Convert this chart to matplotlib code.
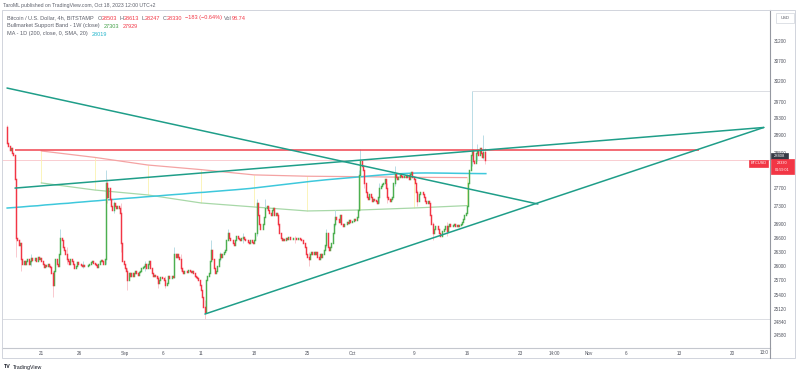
import matplotlib
matplotlib.use("Agg")
import matplotlib.pyplot as plt
import matplotlib.dates as mdates
import numpy as np
import pandas as pd
from matplotlib.patches import Rectangle
from matplotlib.ticker import NullLocator

plt.rcParams['font.family'] = ['Liberation Sans', 'DejaVu Sans']

# ---------------- data ----------------
first_time = "2023-08-16 12:00"
first_open = 29100
closes = [
    28720, 28650, 28550,                              # Aug 16
    28600, 28480, 28450, 27900, 26600, 26550,         # Aug 17
    26450, 26500, 26150, 26050, 26100, 26050,         # Aug 18
    26100, 26150, 26050, 26100, 26180, 26120,         # Aug 19
    26120, 26180, 26100, 26200, 26150, 26180,         # Aug 20
    26100, 26050, 25980, 26020, 26000, 26050,         # Aug 21
    26000, 25980, 25850, 25600, 25900, 26150,         # Aug 22
    26050, 26000, 26250, 26600, 26550, 26400,         # Aug 23
    26350, 26250, 26150, 26100, 26050, 26150,         # Aug 24
    26100, 26050, 25950, 26000, 26080, 26050,         # Aug 25
    26040, 26020, 26000, 26030, 26010, 26000,         # Aug 26
    26000, 26020, 26050, 26080, 26100, 26070,         # Aug 27
    26050, 26030, 25980, 26050, 26100, 26120,         # Aug 28
    26100, 26050, 26150, 27800, 27500, 27700,         # Aug 29
    27450, 27300, 27200, 27350, 27300, 27250,         # Aug 30
    27300, 27250, 27150, 26500, 26100, 26050,         # Aug 31
    25950, 25900, 25700, 25850, 25800, 25850,         # Sep 1
    25800, 25850, 25900, 25850, 25820, 25870,         # Sep 2
    25900, 25950, 25980, 26000, 26050, 25950,         # Sep 3
    26050, 26100, 25950, 25850, 25800, 25820,         # Sep 4
    25800, 25750, 25650, 25700, 25780, 25760,         # Sep 5
    25750, 25700, 25600, 25650, 25800, 25750,         # Sep 6
    25750, 25800, 25780, 26250, 26200, 26250,         # Sep 7
    26200, 26150, 25950, 25900, 25850, 25900,         # Sep 8
    25900, 25880, 25920, 25900, 25880, 25900,         # Sep 9
    25850, 25800, 25780, 25750, 25700, 25600,         # Sep 10
    25500, 25350, 25150, 25050, 25700, 25800,         # Sep 11
    25850, 26100, 26350, 26150, 25950, 25850,         # Sep 12
    25900, 26000, 26150, 26250, 26200, 26250,         # Sep 13
    26300, 26350, 26550, 26700, 26600, 26550,         # Sep 14
    26550, 26500, 26450, 26550, 26650, 26600,         # Sep 15
    26580, 26550, 26600, 26620, 26580, 26550,         # Sep 16
    26550, 26520, 26500, 26550, 26520, 26500,         # Sep 17
    26550, 26700, 27350, 27100, 26900, 26800,         # Sep 18
    26800, 26900, 27050, 27250, 27300, 27200,         # Sep 19
    27150, 27100, 27200, 27250, 27100, 27150,         # Sep 20
    27100, 26900, 26700, 26600, 26550, 26580,         # Sep 21
    26550, 26600, 26580, 26620, 26580, 26570,         # Sep 22
    26580, 26600, 26590, 26570, 26580, 26590,         # Sep 23
    26580, 26560, 26550, 26500, 26400, 26250,         # Sep 24
    26200, 26150, 26250, 26300, 26250, 26300,         # Sep 25
    26250, 26300, 26200, 26150, 26250, 26200,         # Sep 26
    26250, 26350, 26450, 26700, 26400, 26350,         # Sep 27
    26400, 26500, 26700, 26900, 27050, 27000,         # Sep 28
    27000, 26950, 27100, 26900, 26850, 26900,         # Sep 29
    26900, 26950, 26920, 26980, 26950, 26960,         # Sep 30
    26970, 27000, 26980, 27050, 27200, 27980,         # Oct 1
    28300, 28200, 28100, 27800, 27600, 27500,         # Oct 2
    27450, 27550, 27500, 27400, 27450, 27430,         # Oct 3
    27400, 27350, 27500, 27700, 27750, 27780,         # Oct 4
    27800, 27900, 27700, 27500, 27450, 27400,         # Oct 5
    27450, 27500, 27800, 28000, 27950, 27900,         # Oct 6
    27950, 27980, 27960, 27950, 27970, 27960,         # Oct 7
    27950, 27980, 27900, 28000, 28050, 27950,         # Oct 8
    27900, 27800, 27600, 27400, 27550, 27600,         # Oct 9
    27600, 27550, 27500, 27400, 27350, 27400,         # Oct 10
    27350, 27100, 26900, 26700, 26800, 26850,         # Oct 11
    26850, 26800, 26700, 26650, 26750, 26750,         # Oct 12
    26800, 26850, 26750, 26850, 26900, 26850,         # Oct 13
    26850, 26880, 26900, 26850, 26870, 26860,         # Oct 14
    26870, 26900, 26950, 27000, 27100, 27150,         # Oct 15
    27300, 27800, 28100, 28450, 28550, 28300,         # Oct 16
    28250, 28500, 28550, 28450, 28600, 28500,         # Oct 17
    28400, 28503, 28330,                              # Oct 18
]

wick_times = ["2023-08-16 12:00", "2023-08-17 16:00", "2023-08-18 08:00", "2023-08-19 16:00",
              "2023-08-22 12:00", "2023-08-23 12:00", "2023-08-24 08:00", "2023-08-26 12:00",
              "2023-08-29 12:00", "2023-08-29 16:00", "2023-08-30 12:00", "2023-08-31 12:00",
              "2023-09-01 08:00", "2023-09-03 16:00", "2023-09-05 08:00", "2023-09-06 08:00",
              "2023-09-07 12:00", "2023-09-08 08:00", "2023-09-11 12:00", "2023-09-12 08:00",
              "2023-09-13 12:00", "2023-09-14 12:00", "2023-09-16 12:00", "2023-09-18 08:00",
              "2023-09-19 12:00", "2023-09-21 04:00", "2023-09-23 08:00", "2023-09-25 04:00",
              "2023-09-27 12:00", "2023-09-28 16:00", "2023-10-01 20:00", "2023-10-02 00:00",
              "2023-10-02 12:00", "2023-10-04 12:00", "2023-10-05 12:00", "2023-10-06 12:00",
              "2023-10-09 12:00", "2023-10-11 12:00", "2023-10-13 08:00", "2023-10-16 16:00",
              "2023-10-17 08:00", "2023-10-18 04:00", "2023-10-18 08:00"]
wick_highs = [29150, 27900, 26500, 26250, 25900, 26800, 26400, 26100,
              28100, 27900, 27400, 27350, 25950, 26100, 25800, 25800,
              26400, 26250, 25300, 26550, 26300, 26800, 26700, 27450,
              27450, 27150, 26650, 26300, 26800, 27200, 28100, 28580,
              28100, 27800, 27800, 28200, 27650, 26950, 26950, 29950,
              28700, 28900, 28613]
wick_lows = [28700, 26200, 25900, 26000, 25350, 26250, 26050, 25950,
             26050, 27350, 27150, 26300, 25500, 25900, 25550, 25550,
             25750, 25900, 24900, 26100, 26100, 26550, 26500, 26650,
             27050, 26850, 26500, 26000, 26400, 26850, 27200, 27950,
             27700, 27350, 27350, 27750, 27300, 26550, 26650, 28200,
             28300, 28350, 28247]

band_weeks = ["2023-08-21 00:00", "2023-08-28 00:00", "2023-09-04 00:00", "2023-09-11 00:00",
              "2023-09-18 00:00", "2023-09-25 00:00", "2023-10-02 00:00", "2023-10-09 00:00",
              "2023-10-16 00:00"]
band_ema20w = [28537, 28390, 28215, 28110, 27990, 27960, 27950, 27935, 27929]
band_sma21w = [27809, 27650, 27540, 27362, 27273, 27185, 27207, 27250, 27303]

ma_start = "2023-08-16 12:00"
ma200_1d = [27250, 27262, 27275, 27290, 27300, 27318, 27330, 27345, 27355, 27372,
            27385, 27400, 27412, 27428, 27440, 27455, 27468, 27480, 27495, 27508,
            27520, 27535, 27548, 27560, 27575, 27590, 27600, 27615, 27628, 27642,
            27655, 27670, 27685, 27705, 27725, 27745, 27765, 27785, 27805, 27825,
            27845, 27862, 27880, 27895, 27910, 27925, 27940, 27955, 27970, 27985,
            27998, 28010, 28020, 28028, 28032, 28034, 28033, 28031, 28029, 28026,
            28024, 28022, 28020, 28019]

desc_line_t = ["2023-08-16 11:31", "2023-10-25 08:24"]
desc_line_p = [30028, 27338]
upper_line_t = ["2023-08-17 12:43", "2023-11-24 01:55"]
upper_line_p = [27693, 29085]
support_line_t = ["2023-09-11 12:43", "2023-11-24 01:55"]
support_line_p = [25010, 29085]
resist_t = ["2023-08-17 12:43", "2023-11-15 12:00"]
resist_price = 28560
range_high_t = "2023-10-16 16:00"
range_high = 29956
range_low = 24910
last_price = 28330

ytick_vals = [31200, 30700, 30200, 29700, 29300, 28900, 28500, 27700, 27300,
              26900, 26600, 26300, 26000, 25700, 25400, 25120, 24840, 24580]
xtick_dates = ["2023-08-21 00:00", "2023-08-26 00:00", "2023-09-01 00:00", "2023-09-06 00:00",
               "2023-09-11 00:00", "2023-09-18 00:00", "2023-09-25 00:00", "2023-10-01 00:00",
               "2023-10-09 00:00", "2023-10-16 00:00", "2023-10-23 00:00", "2023-10-27 11:00",
               "2023-11-01 00:00", "2023-11-06 00:00", "2023-11-13 00:00", "2023-11-20 00:00"]
xtick_labels = ["21", "26", "Sep", "6", "11", "18", "25", "Oct", "9", "16", "23", "14:00",
                "Nov", "6", "13", "20"]

# ---------------- figure ----------------
W, H = 800, 375
fig = plt.figure(figsize=(8, 3.75), dpi=100)
fig.patch.set_facecolor('white')


def fx(x):
    return x / W


def fy(y):
    return 1 - y / H


def dn(s):
    return mdates.date2num(pd.to_datetime(s, format='mixed'))


ax = fig.add_axes([fx(2), fy(348), fx(770) - fx(2), fy(10) - fy(348)])
ax.set_yscale('log')
ax.set_ylim(24332, 31985)
ax.set_xlim(dn("2023-08-15 19:41"), dn("2023-11-24 21:36"))

GREEN = '#4caf50'
RED = '#f23645'
TEAL = '#1f9e89'

times = pd.date_range(first_time, periods=len(closes), freq='4h')
tx = mdates.date2num(times)
c = np.array(closes, dtype=float)
o = np.concatenate([[first_open], c[:-1]])
up = c >= o

# wicks
wt = dn(wick_times)
for t, hi, lo in zip(wt, wick_highs, wick_lows):
    i = int(np.argmin(np.abs(tx - t)))
    col = '#b9dce6' if up[i] else '#f9c9cf'
    ax.vlines(t, lo, hi, color=col, lw=0.7, zorder=2)

# bodies
for mask, col in [(up, GREEN), (~up, RED)]:
    lc = ax.vlines(tx[mask], np.minimum(o, c)[mask], np.maximum(o, c)[mask],
                   color=col, lw=1.05, zorder=3)
    lc.set_capstyle('projecting')

# Bull market support band
bw = dn(band_weeks)
ax.plot(bw, band_ema20w, color='#f4a3a3', lw=0.9, zorder=1.5)
ax.plot(bw, band_sma21w, color='#a8d8a8', lw=0.9, zorder=1.5)
ax.vlines(bw, band_sma21w, band_ema20w, color='#fbf3b0', lw=0.6, zorder=1.4)

# MA 200 (1D)
mt = mdates.date2num(pd.date_range(ma_start, periods=len(ma200_1d), freq='D'))
ax.plot(mt, ma200_1d, color='#3ec8dc', lw=1.1, zorder=1.6)

# horizontal lines
xl = ax.get_xlim()
ax.axhline(last_price, color='#f9cdd1', lw=0.7, zorder=1.2)
ax.hlines(range_low, xl[0], xl[1], color='#d6d8de', lw=0.6, zorder=1.1)
ax.hlines(range_high, dn(range_high_t), xl[1], color='#d6d8de', lw=0.6, zorder=1.1)
rt = dn(resist_t)
ax.hlines(resist_price, rt[0], rt[1], color='#f0444f', lw=1.1, zorder=4)

# trend lines
for tt, pp in [(desc_line_t, desc_line_p), (upper_line_t, upper_line_p),
               (support_line_t, support_line_p)]:
    ax.plot(dn(tt), pp, color=TEAL, lw=1.1, zorder=4, solid_capstyle='round')

# axes styling
for s in ['top', 'left']:
    ax.spines[s].set_visible(False)
ax.spines['right'].set_color('#9598a1')
ax.spines['right'].set_linewidth(0.8)
ax.spines['bottom'].set_color('#c4c7ce')
ax.spines['bottom'].set_linewidth(0.8)
ax.yaxis.tick_right()
ax.yaxis.set_minor_locator(NullLocator())
ax.set_yticks(ytick_vals)
ax.set_yticklabels([str(v) for v in ytick_vals])
ax.tick_params(axis='y', length=0, labelsize=3.3, pad=3, labelcolor='#50535e')
ax.set_xticks(dn(xtick_dates))
ax.set_xticklabels(xtick_labels)
ax.xaxis.set_minor_locator(NullLocator())
ax.tick_params(axis='x', length=0, labelsize=3.3, pad=2.5, labelcolor='#50535e')
ax.set_facecolor('white')

# outer frame
fig.patches.append(Rectangle((fx(2), fy(358)), fx(795) - fx(2), fy(10) - fy(358),
                             transform=fig.transFigure, fill=False,
                             edgecolor='#d1d4dc', lw=0.7))
fig.add_artist(plt.Line2D([fx(770), fx(770)], [fy(348), fy(358)], transform=fig.transFigure,
                          color='#9598a1', lw=0.8))


def box(x0, y0, x1, y1, fc, ec=None):
    fig.patches.append(Rectangle((fx(x0), fy(y1)), fx(x1) - fx(x0), fy(y0) - fy(y1),
                                 transform=fig.transFigure, facecolor=fc,
                                 edgecolor=ec if ec else fc, lw=0.5, zorder=10))


def txt(x, y, s, size=3.3, color='#50535e', ha='left', weight='normal'):
    return fig.text(fx(x), fy(y), s, fontsize=size, color=color, ha=ha, va='center',
                    weight=weight, zorder=11)


# price axis labels / boxes
box(776, 13, 794, 23, 'white', '#d1d4dc')
txt(785, 18, "USD", 3.0, '#50535e', 'center')
box(771, 153, 788, 159, '#363a45')
txt(779.5, 156, "28408", 3.0, 'white', 'center')
box(771, 159, 794, 174, '#f23645')
txt(782.5, 162.6, "28330", 2.7, 'white', 'center')
txt(782.5, 170.0, "01:59:01", 2.7, 'white', 'center')
box(749, 160, 768, 167, '#f23645')
txt(758.5, 163.5, "BTCUSD", 2.8, 'white', 'center')
txt(769, 353, "13:0", 3.3, '#50535e', 'right')

# header and legend
renderer = fig.canvas.get_renderer()


def rich(x, y, parts, size=3.6, weight='normal'):
    cx = x
    for p in parts:
        if isinstance(p, (int, float)):
            cx += p
            continue
        s, col = p
        t = fig.text(fx(cx), fy(y), s, fontsize=size, color=col, ha='left', va='center',
                     weight=weight)
        cx += t.get_window_extent(renderer=renderer).width


GRAY = '#5d606b'
rich(3, 5, [("TaroML published on TradingView.com, Oct 18, 2023 12:00 UTC+2", GRAY)], 3.7)
rich(7, 18, [("Bitcoin / U.S. Dollar, 4h, BITSTAMP", GRAY), 4,
             ("O", GRAY), ("28503", RED), 2.5, ("H", GRAY), ("28613", RED), 2.5,
             ("L", GRAY), ("28247", RED), 2.5, ("C", GRAY), ("28330", RED), 2.5,
             ("\u2212183 (\u22120.64%)", RED), 2.5, ("Vol", GRAY), ("98.74", RED)], 4.0)
rich(7, 26, [("Bullmarket Support Band - 1W (close)", GRAY), 4,
             ("27303", '#43a047'), 4, ("27929", RED)], 4.0)
rich(7, 34, [("MA - 1D (200, close, 0, SMA, 20)", GRAY), 4, ("28019", '#26b6cc')], 4.0)

# TradingView logo
rich(4, 367, [("TV", '#131722')], 3.8, 'bold')
rich(13, 367, [("TradingView", '#131722')], 3.8)

fig.savefig("out.png", dpi=100, facecolor='white')
